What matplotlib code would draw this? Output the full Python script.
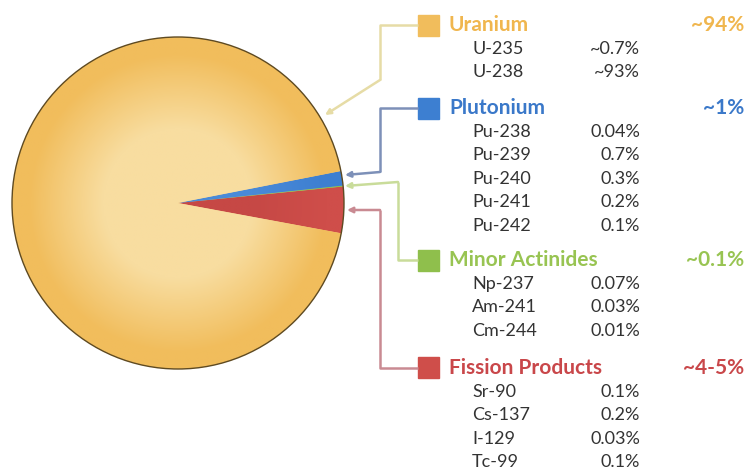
import matplotlib
matplotlib.use("Agg")
import matplotlib.pyplot as plt
import numpy as np
from matplotlib.colors import LinearSegmentedColormap

W, H = 744, 473

# main groups (share of spent fuel, %)
groups = ["Uranium", "Plutonium", "Minor Actinides", "Fission Products"]
shares = [94, 1.4, 0.1, 4.5]
share_labels = ["~94%", "~1%", "~0.1%", "~4-5%"]

# isotopes in each group
isotopes = [
    ["U-235", "U-238"],
    ["Pu-238", "Pu-239", "Pu-240", "Pu-241", "Pu-242"],
    ["Np-237", "Am-241", "Cm-244"],
    ["Sr-90", "Cs-137", "I-129", "Tc-99"],
]
isotope_vals = [
    ["~0.7%", "~93%"],
    ["0.04%", "0.7%", "0.3%", "0.2%", "0.1%"],
    ["0.07%", "0.03%", "0.01%"],
    ["0.1%", "0.2%", "0.03%", "0.1%"],
]

fill = ["#f1bd5c", "#3d7fd1", "#8fbf4c", "#cf4e4a"]
fill_in = ["#f8dda0", "#4a8ad8", "#9ac85a", "#c64845"]
text_col = ["#f0b64e", "#3a78c9", "#98c452", "#c9474a"]
line_col = ["#e6dca6", "#7d90b8", "#c9dc9a", "#c98a92"]

plt.rcParams["font.family"] = ["Lato", "DejaVu Sans"]

fig = plt.figure(figsize=(W / 100, H / 100), dpi=100)
ax = fig.add_axes([0, 0, 1, 1])


def py(y):
    return H - y


cx, cy, r = 178, py(203), 166

# pie, drawn counter-clockwise starting at the bottom edge of the red wedge
order = [3, 2, 1, 0]
wedges, _ = ax.pie(
    [shares[i] for i in order],
    colors=[fill[i] for i in order],
    startangle=-10.5,
    center=(cx, cy),
    radius=r,
    wedgeprops=dict(linewidth=0),
    frame=True,
)

# radial shading clipped to each wedge
gx, gy = np.meshgrid(np.linspace(-1, 1, 300), np.linspace(-1, 1, 300))
rad = np.clip(np.hypot(gx, gy), 0, 1)
for w, i in zip(wedges, order):
    cm = LinearSegmentedColormap.from_list(
        "g", [(0, fill_in[i]), (0.45, fill_in[i]), (0.9, fill[i]), (1, fill[i])])
    im = ax.imshow(rad, cmap=cm, extent=(cx - r, cx + r, cy - r, cy + r),
                   origin="lower", zorder=2, interpolation="bilinear")
    im.set_clip_path(w)

ax.add_patch(plt.Circle((cx, cy), r, fill=False, ec="#5e4a22", lw=1.0, zorder=3))

# legend block on the right
head_y = [25, 108, 260, 368]
row_h = 23.6
sq_x, sq = 418, 21
for g in range(4):
    y0 = head_y[g]
    ax.add_patch(plt.Rectangle((sq_x, py(y0) - sq / 2), sq, sq, color=fill[g], zorder=3))
    ax.text(sq_x + sq + 10, py(y0), groups[g], color=text_col[g], fontsize=15,
            fontweight="bold", va="center", ha="left")
    ax.text(744, py(y0), share_labels[g], color=text_col[g], fontsize=15,
            fontweight="bold", va="center", ha="right")
    for k, (name, val) in enumerate(zip(isotopes[g], isotope_vals[g])):
        yy = py(y0 + row_h * (k + 1))
        ax.text(472, yy, name, color="#333333", fontsize=13, va="center", ha="left")
        ax.text(640, yy, val, color="#333333", fontsize=13, va="center", ha="right")

# connector lines from each legend square to its wedge
paths = [
    [(418, 25), (380, 25), (380, 80), (325, 115)],
    [(418, 108), (380, 108), (380, 172), (345, 175)],
    [(418, 260), (398, 260), (398, 182), (345, 186)],
    [(418, 368), (380, 368), (380, 210), (347, 210)],
]
for g, pts in enumerate(paths):
    xs = [p[0] for p in pts]
    ys = [py(p[1]) for p in pts]
    ax.plot(xs[:-1], ys[:-1], color=line_col[g], lw=1.8, solid_capstyle="butt", zorder=4)
    ax.annotate("", xy=(xs[-1], ys[-1]), xytext=(xs[-2], ys[-2]),
                arrowprops=dict(arrowstyle="-|>", color=line_col[g], lw=1.8,
                                mutation_scale=8, shrinkA=0, shrinkB=0), zorder=4)

ax.set_xlim(0, W)
ax.set_ylim(0, H)
ax.set_aspect("equal")
ax.axis("off")

fig.savefig("out.png", dpi=100)
